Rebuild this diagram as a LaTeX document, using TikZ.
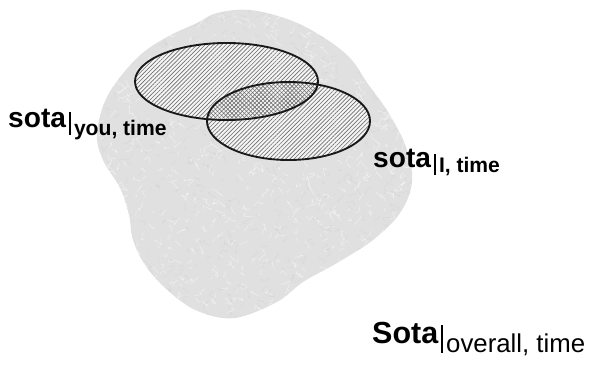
\documentclass[tikz,border=0pt]{standalone}
\usepackage{fontspec}
\setmainfont{Liberation Sans}
\usepackage{xcolor}
\usepackage{tikz}
\usetikzlibrary{patterns.meta}
\definecolor{blobgray}{HTML}{E0E0E0}
\definecolor{hatchgray}{HTML}{6E6E6E}

\tikzset{
  lbl/.style={anchor=base west, inner sep=0pt, text=black},
  setring/.style={line width=1.6pt, draw=black!90},
  hatch/.style={pattern={Lines[angle=45,distance=2.5pt,line width=0.55pt]}, pattern color=hatchgray}
}
\newcommand{\vbar}[2]{\rule[-#1]{1.8pt}{#2}}

\begin{document}
\begin{tikzpicture}[x=0.03cm,y=-0.03cm]
      \useasboundingbox (0,0) rectangle (594,366);
      % overall region
      \def\blobpath{plot[smooth cycle, tension=0.6] coordinates {
        (250,10) (290,20) (323,37) (350,58) (368,84) (388,112) (406,147)
        (412,182) (400,213) (373,240) (337,263) (303,282) (277,302)
        (235,318) (200,312) (173,295) (147,268) (133,240) (129,215)
        (120,188) (103,160) (97,133) (108,95) (137,58) (167,37) (197,23) (217,13)}}
      \fill[blobgray] \blobpath;
      \begin{scope}
        \clip \blobpath;
        \pgfmathsetseed{4711}
        \foreach \i in {1,...,900}
          \draw[white, opacity=0.5, line width=0.45pt]
            ({90+330*rnd},{5+320*rnd}) .. controls +({5*rand},{5*rand}) .. +({7*rand},{7*rand});
        \foreach \i in {1,...,600}
          \draw[gray!45, opacity=0.35, line width=0.35pt]
            ({90+330*rnd},{5+320*rnd}) .. controls +({5*rand},{5*rand}) .. +({7*rand},{7*rand});
      \end{scope}
      % the two sets
      \coordinate (youc) at (226.5,81.5);
      \coordinate (mec) at (288.5,121);
      \fill[white!92!gray] (youc) ellipse (91.5 and 38.5);
      \fill[hatch] (youc) ellipse (91.5 and 38.5);
      \fill[white!92!gray] (mec) ellipse (81.5 and 39);
      \fill[hatch] (mec) ellipse (81.5 and 39);
      \begin{scope}
        \clip (youc) ellipse (91.5 and 38.5);
        \fill[pattern={Lines[angle=-45,distance=2.5pt,line width=0.5pt]}, pattern color=hatchgray] (mec) ellipse (81.5 and 39);
      \end{scope}
      \draw[setring] (youc) ellipse (91.5 and 38.5);
      \draw[setring] (mec) ellipse (81.5 and 39);
      % labels
      \node[lbl] (you) at (8,127) {\fontsize{24}{24}\selectfont\bfseries sota\kern2.5pt\vbar{7pt}{20pt}\kern2.5pt\raisebox{-7pt}{\fontsize{18}{18}\selectfont you, time}};
      \node[lbl] (me) at (373,167) {\fontsize{24}{24}\selectfont\bfseries sota\kern2.5pt\vbar{7pt}{18pt}\kern2.5pt\raisebox{-5pt}{\fontsize{18}{18}\selectfont I, time}};
      \node[lbl] (overall) at (372,343) {\fontsize{26}{26}\selectfont\bfseries Sota\kern2pt\vbar{8.5pt}{24pt}\kern3pt\raisebox{-8.5pt}{\fontsize{22}{22}\selectfont\mdseries overall, time}};
    \end{tikzpicture}
\end{document}
